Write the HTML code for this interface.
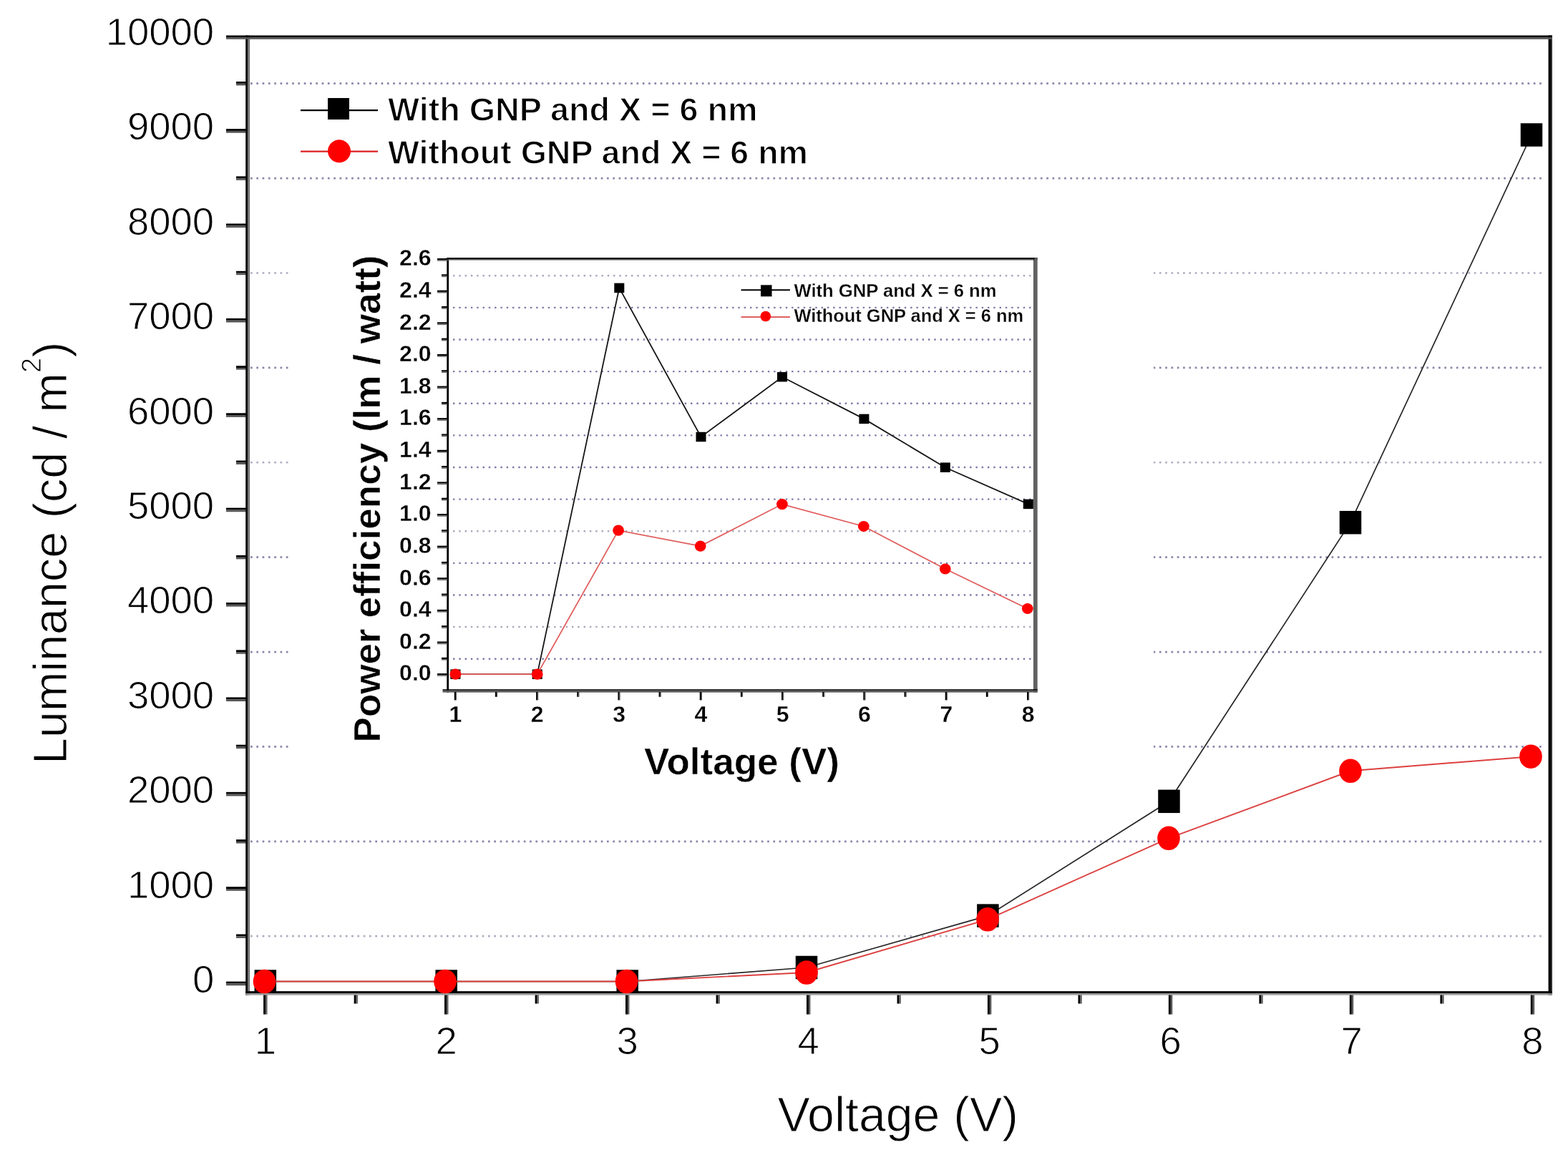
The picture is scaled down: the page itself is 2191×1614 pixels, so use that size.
<!DOCTYPE html>
<html><head><meta charset="utf-8"><title>Luminance vs Voltage</title>
<style>html,body{margin:0;padding:0;background:#fff;}body{width:2191px;height:1614px;overflow:hidden;}svg{display:block;}text{font-family:"Liberation Sans",Arial,sans-serif;fill:#000;stroke:#fff;stroke-width:1px;}text[font-weight="bold"]{stroke-width:1.3px;}text.sm{stroke-width:0.3px;}text.nb{stroke-width:0.5px;}</style>
</head><body>
<svg width="2191" height="1614" viewBox="0 0 2191 1614">
<rect x="0" y="0" width="2191" height="1614" fill="#fff"/>
<line x1="350" y1="1308.21" x2="2157" y2="1308.21" stroke="#aeacc0" stroke-width="2.7" stroke-dasharray="2.7 5.6"/>
<line x1="350" y1="1175.82" x2="2157" y2="1175.82" stroke="#8a86a8" stroke-width="2.7" stroke-dasharray="2.7 5.6"/>
<line x1="350" y1="1043.43" x2="2157" y2="1043.43" stroke="#8a86a8" stroke-width="2.7" stroke-dasharray="2.7 5.6"/>
<line x1="350" y1="911.04" x2="2157" y2="911.04" stroke="#8a86a8" stroke-width="2.7" stroke-dasharray="2.7 5.6"/>
<line x1="350" y1="778.65" x2="2157" y2="778.65" stroke="#8a86a8" stroke-width="2.7" stroke-dasharray="2.7 5.6"/>
<line x1="350" y1="646.26" x2="2157" y2="646.26" stroke="#aeacc0" stroke-width="2.7" stroke-dasharray="2.7 5.6"/>
<line x1="350" y1="513.87" x2="2157" y2="513.87" stroke="#8a86a8" stroke-width="2.7" stroke-dasharray="2.7 5.6"/>
<line x1="350" y1="381.48" x2="2157" y2="381.48" stroke="#aeacc0" stroke-width="2.7" stroke-dasharray="2.7 5.6"/>
<line x1="350" y1="249.09" x2="2157" y2="249.09" stroke="#8a86a8" stroke-width="2.7" stroke-dasharray="2.7 5.6"/>
<line x1="350" y1="116.71" x2="2157" y2="116.71" stroke="#8a86a8" stroke-width="2.7" stroke-dasharray="2.7 5.6"/>
<rect x="316" y="1371.6" width="30" height="2.8" fill="#000"/>
<rect x="316" y="1374.4" width="30" height="2.8" fill="#555"/>
<rect x="316" y="1239.21" width="30" height="2.8" fill="#000"/>
<rect x="316" y="1242.01" width="30" height="2.8" fill="#555"/>
<rect x="316" y="1106.82" width="30" height="2.8" fill="#000"/>
<rect x="316" y="1109.62" width="30" height="2.8" fill="#555"/>
<rect x="316" y="974.43" width="30" height="2.8" fill="#000"/>
<rect x="316" y="977.23" width="30" height="2.8" fill="#555"/>
<rect x="316" y="842.04" width="30" height="2.8" fill="#000"/>
<rect x="316" y="844.84" width="30" height="2.8" fill="#555"/>
<rect x="316" y="709.66" width="30" height="2.8" fill="#000"/>
<rect x="316" y="712.46" width="30" height="2.8" fill="#555"/>
<rect x="316" y="577.27" width="30" height="2.8" fill="#000"/>
<rect x="316" y="580.07" width="30" height="2.8" fill="#555"/>
<rect x="316" y="444.88" width="30" height="2.8" fill="#000"/>
<rect x="316" y="447.68" width="30" height="2.8" fill="#555"/>
<rect x="316" y="312.49" width="30" height="2.8" fill="#000"/>
<rect x="316" y="315.29" width="30" height="2.8" fill="#555"/>
<rect x="316" y="180.1" width="30" height="2.8" fill="#000"/>
<rect x="316" y="182.9" width="30" height="2.8" fill="#555"/>
<rect x="330" y="1305.51" width="16" height="2.8" fill="#000"/>
<rect x="330" y="1308.31" width="16" height="2.6" fill="#555"/>
<rect x="330" y="1173.12" width="16" height="2.8" fill="#000"/>
<rect x="330" y="1175.92" width="16" height="2.6" fill="#555"/>
<rect x="330" y="1040.73" width="16" height="2.8" fill="#000"/>
<rect x="330" y="1043.53" width="16" height="2.6" fill="#555"/>
<rect x="330" y="908.34" width="16" height="2.8" fill="#000"/>
<rect x="330" y="911.14" width="16" height="2.6" fill="#555"/>
<rect x="330" y="775.95" width="16" height="2.8" fill="#000"/>
<rect x="330" y="778.75" width="16" height="2.6" fill="#555"/>
<rect x="330" y="643.56" width="16" height="2.8" fill="#000"/>
<rect x="330" y="646.36" width="16" height="2.6" fill="#555"/>
<rect x="330" y="511.17" width="16" height="2.8" fill="#000"/>
<rect x="330" y="513.97" width="16" height="2.6" fill="#555"/>
<rect x="330" y="378.78" width="16" height="2.8" fill="#000"/>
<rect x="330" y="381.58" width="16" height="2.6" fill="#555"/>
<rect x="330" y="246.39" width="16" height="2.8" fill="#000"/>
<rect x="330" y="249.19" width="16" height="2.6" fill="#555"/>
<rect x="330" y="114.01" width="16" height="2.8" fill="#000"/>
<rect x="330" y="116.81" width="16" height="2.6" fill="#555"/>
<rect x="368.1" y="1390" width="3" height="27.5" fill="#000"/>
<rect x="371.1" y="1390" width="2.4" height="27.5" fill="#5a5a5a"/>
<rect x="621.06" y="1390" width="3" height="27.5" fill="#000"/>
<rect x="624.06" y="1390" width="2.4" height="27.5" fill="#5a5a5a"/>
<rect x="874.01" y="1390" width="3" height="27.5" fill="#000"/>
<rect x="877.01" y="1390" width="2.4" height="27.5" fill="#5a5a5a"/>
<rect x="1126.97" y="1390" width="3" height="27.5" fill="#000"/>
<rect x="1129.97" y="1390" width="2.4" height="27.5" fill="#5a5a5a"/>
<rect x="1379.93" y="1390" width="3" height="27.5" fill="#000"/>
<rect x="1382.93" y="1390" width="2.4" height="27.5" fill="#5a5a5a"/>
<rect x="1632.89" y="1390" width="3" height="27.5" fill="#000"/>
<rect x="1635.89" y="1390" width="2.4" height="27.5" fill="#5a5a5a"/>
<rect x="1885.84" y="1390" width="3" height="27.5" fill="#000"/>
<rect x="1888.84" y="1390" width="2.4" height="27.5" fill="#5a5a5a"/>
<rect x="2138.8" y="1390" width="3" height="27.5" fill="#000"/>
<rect x="2141.8" y="1390" width="2.4" height="27.5" fill="#5a5a5a"/>
<rect x="494.68" y="1390" width="3" height="12.5" fill="#000"/>
<rect x="497.68" y="1390" width="2.2" height="12.5" fill="#5a5a5a"/>
<rect x="747.64" y="1390" width="3" height="12.5" fill="#000"/>
<rect x="750.64" y="1390" width="2.2" height="12.5" fill="#5a5a5a"/>
<rect x="1000.59" y="1390" width="3" height="12.5" fill="#000"/>
<rect x="1003.59" y="1390" width="2.2" height="12.5" fill="#5a5a5a"/>
<rect x="1253.55" y="1390" width="3" height="12.5" fill="#000"/>
<rect x="1256.55" y="1390" width="2.2" height="12.5" fill="#5a5a5a"/>
<rect x="1506.51" y="1390" width="3" height="12.5" fill="#000"/>
<rect x="1509.51" y="1390" width="2.2" height="12.5" fill="#5a5a5a"/>
<rect x="1759.46" y="1390" width="3" height="12.5" fill="#000"/>
<rect x="1762.46" y="1390" width="2.2" height="12.5" fill="#5a5a5a"/>
<rect x="2012.42" y="1390" width="3" height="12.5" fill="#000"/>
<rect x="2015.42" y="1390" width="2.2" height="12.5" fill="#5a5a5a"/>
<rect x="343.2" y="49.5" width="3.2" height="1341.1" fill="#000"/>
<rect x="346.4" y="49.5" width="2.6" height="1341.1" fill="#707070"/>
<rect x="2163.6" y="49.5" width="3.4" height="1341.1" fill="#000"/>
<rect x="2167" y="49.5" width="2" height="1341.1" fill="#333"/>
<rect x="316" y="49.5" width="1852.9" height="2.6" fill="#000"/>
<rect x="316" y="52.1" width="1852.9" height="2.7" fill="#555"/>
<rect x="343.3" y="1385.1" width="1825.6" height="3" fill="#000"/>
<rect x="343.3" y="1388.1" width="1825.6" height="2.5" fill="#9a9a9a"/>
<text x="299.2" y="1386.9" font-size="54.5" text-anchor="end">0</text>
<text x="299.2" y="1254.51" font-size="54.5" text-anchor="end">1000</text>
<text x="299.2" y="1122.12" font-size="54.5" text-anchor="end">2000</text>
<text x="299.2" y="989.73" font-size="54.5" text-anchor="end">3000</text>
<text x="299.2" y="857.34" font-size="54.5" text-anchor="end">4000</text>
<text x="299.2" y="724.96" font-size="54.5" text-anchor="end">5000</text>
<text x="299.2" y="592.57" font-size="54.5" text-anchor="end">6000</text>
<text x="299.2" y="460.18" font-size="54.5" text-anchor="end">7000</text>
<text x="299.2" y="327.79" font-size="54.5" text-anchor="end">8000</text>
<text x="299.2" y="195.4" font-size="54.5" text-anchor="end">9000</text>
<text x="299.2" y="63.01" font-size="54.5" text-anchor="end">10000</text>
<text x="370.8" y="1473" font-size="54.5" text-anchor="middle">1</text>
<text x="623.76" y="1473" font-size="54.5" text-anchor="middle">2</text>
<text x="876.71" y="1473" font-size="54.5" text-anchor="middle">3</text>
<text x="1129.67" y="1473" font-size="54.5" text-anchor="middle">4</text>
<text x="1382.63" y="1473" font-size="54.5" text-anchor="middle">5</text>
<text x="1635.59" y="1473" font-size="54.5" text-anchor="middle">6</text>
<text x="1888.54" y="1473" font-size="54.5" text-anchor="middle">7</text>
<text x="2141.5" y="1473" font-size="54.5" text-anchor="middle">8</text>
<text transform="translate(92.6,1068) rotate(-90)" font-size="66.5" x="0" y="0">Luminance (cd / m<tspan font-size="38" dy="-35.4">2</tspan><tspan dy="35.4">)</tspan></text>
<text x="1086.5" y="1581.2" font-size="68" text-anchor="start">Voltage (V)</text>
<line x1="420" y1="154.2" x2="528" y2="154.2" stroke="#000" stroke-width="2.2"/>
<rect x="458" y="137" width="30" height="30" fill="#000"/>
<line x1="420" y1="211.7" x2="528" y2="211.7" stroke="#d82020" stroke-width="2.2"/>
<circle cx="474" cy="211.3" r="16" fill="#ff0000"/>
<text x="542" y="169" font-size="46.5" text-anchor="start" font-weight="bold" textLength="516.5" lengthAdjust="spacingAndGlyphs">With GNP and X = 6 nm</text>
<text x="542" y="228.6" font-size="46.5" text-anchor="start" font-weight="bold" textLength="587" lengthAdjust="spacingAndGlyphs">Without GNP and X = 6 nm</text>
<polyline points="370.8,1371.5 623.7,1371.5 876.7,1371.5 1127,1352 1380.4,1279.6 1633.5,1119.8 1887,730.2 2140,188.5" fill="none" stroke="#262626" stroke-width="1.7"/>
<rect x="355.55" y="1355.25" width="30.5" height="32.5" fill="#000"/>
<rect x="608.45" y="1355.25" width="30.5" height="32.5" fill="#000"/>
<rect x="861.45" y="1355.25" width="30.5" height="32.5" fill="#000"/>
<rect x="1111.75" y="1335.75" width="30.5" height="32.5" fill="#000"/>
<rect x="1365.15" y="1263.35" width="30.5" height="32.5" fill="#000"/>
<rect x="1618.25" y="1103.55" width="30.5" height="32.5" fill="#000"/>
<rect x="1871.75" y="713.95" width="30.5" height="32.5" fill="#000"/>
<rect x="2124.75" y="172.25" width="30.5" height="32.5" fill="#000"/>
<polyline points="369.5,1371.5 622,1371.5 875.5,1371.5 1127,1359 1380,1284.8 1633,1171.3 1887,1077.3 2139,1057.2" fill="none" stroke="#dc4040" stroke-width="1.9"/>
<ellipse cx="369.5" cy="1371.5" rx="15.8" ry="16.8" fill="#ff0000"/>
<ellipse cx="622" cy="1371.5" rx="15.8" ry="16.8" fill="#ff0000"/>
<ellipse cx="875.5" cy="1371.5" rx="15.8" ry="16.8" fill="#ff0000"/>
<ellipse cx="1127" cy="1359" rx="15.8" ry="16.8" fill="#ff0000"/>
<ellipse cx="1380" cy="1284.8" rx="15.8" ry="16.8" fill="#ff0000"/>
<ellipse cx="1633" cy="1171.3" rx="15.8" ry="16.8" fill="#ff0000"/>
<ellipse cx="1887" cy="1077.3" rx="15.8" ry="16.8" fill="#ff0000"/>
<ellipse cx="2139" cy="1057.2" rx="15.8" ry="16.8" fill="#ff0000"/>
<rect x="408" y="300" width="1204" height="810" fill="#fff"/>
<line x1="633" y1="920.69" x2="1442" y2="920.69" stroke="#7d7aa6" stroke-width="2.4" stroke-dasharray="2.4 5.9"/>
<line x1="633" y1="876.07" x2="1442" y2="876.07" stroke="#aaa9bd" stroke-width="2.4" stroke-dasharray="2.4 5.9"/>
<line x1="633" y1="831.45" x2="1442" y2="831.45" stroke="#7d7aa6" stroke-width="2.4" stroke-dasharray="2.4 5.9"/>
<line x1="633" y1="786.83" x2="1442" y2="786.83" stroke="#7d7aa6" stroke-width="2.4" stroke-dasharray="2.4 5.9"/>
<line x1="633" y1="742.21" x2="1442" y2="742.21" stroke="#aaa9bd" stroke-width="2.4" stroke-dasharray="2.4 5.9"/>
<line x1="633" y1="697.59" x2="1442" y2="697.59" stroke="#7d7aa6" stroke-width="2.4" stroke-dasharray="2.4 5.9"/>
<line x1="633" y1="652.97" x2="1442" y2="652.97" stroke="#7d7aa6" stroke-width="2.4" stroke-dasharray="2.4 5.9"/>
<line x1="633" y1="608.35" x2="1442" y2="608.35" stroke="#7d7aa6" stroke-width="2.4" stroke-dasharray="2.4 5.9"/>
<line x1="633" y1="563.73" x2="1442" y2="563.73" stroke="#7d7aa6" stroke-width="2.4" stroke-dasharray="2.4 5.9"/>
<line x1="633" y1="519.11" x2="1442" y2="519.11" stroke="#7d7aa6" stroke-width="2.4" stroke-dasharray="2.4 5.9"/>
<line x1="633" y1="474.49" x2="1442" y2="474.49" stroke="#7d7aa6" stroke-width="2.4" stroke-dasharray="2.4 5.9"/>
<line x1="633" y1="429.87" x2="1442" y2="429.87" stroke="#7d7aa6" stroke-width="2.4" stroke-dasharray="2.4 5.9"/>
<line x1="633" y1="385.25" x2="1442" y2="385.25" stroke="#aaa9bd" stroke-width="2.4" stroke-dasharray="2.4 5.9"/>
<rect x="624.3" y="360.4" width="2.8" height="607.2" fill="#000"/>
<rect x="624.3" y="360.1" width="825.4" height="2.6" fill="#000"/>
<rect x="624.3" y="362.7" width="825.4" height="1" fill="#777"/>
<rect x="1444.35" y="360.4" width="1.2" height="607.2" fill="#000"/>
<rect x="1445.55" y="360.4" width="4.1" height="607.2" fill="#606060"/>
<rect x="618.5" y="963.2" width="831.2" height="1.6" fill="#000"/>
<rect x="618.5" y="964.8" width="831.2" height="2.8" fill="#5c5c5c"/>
<rect x="611" y="941.1" width="14" height="2.2" fill="#000"/>
<rect x="611" y="943.3" width="14" height="1.6" fill="#666"/>
<rect x="611" y="896.48" width="14" height="2.2" fill="#000"/>
<rect x="611" y="898.68" width="14" height="1.6" fill="#666"/>
<rect x="611" y="851.86" width="14" height="2.2" fill="#000"/>
<rect x="611" y="854.06" width="14" height="1.6" fill="#666"/>
<rect x="611" y="807.24" width="14" height="2.2" fill="#000"/>
<rect x="611" y="809.44" width="14" height="1.6" fill="#666"/>
<rect x="611" y="762.62" width="14" height="2.2" fill="#000"/>
<rect x="611" y="764.82" width="14" height="1.6" fill="#666"/>
<rect x="611" y="718" width="14" height="2.2" fill="#000"/>
<rect x="611" y="720.2" width="14" height="1.6" fill="#666"/>
<rect x="611" y="673.38" width="14" height="2.2" fill="#000"/>
<rect x="611" y="675.58" width="14" height="1.6" fill="#666"/>
<rect x="611" y="628.76" width="14" height="2.2" fill="#000"/>
<rect x="611" y="630.96" width="14" height="1.6" fill="#666"/>
<rect x="611" y="584.14" width="14" height="2.2" fill="#000"/>
<rect x="611" y="586.34" width="14" height="1.6" fill="#666"/>
<rect x="611" y="539.52" width="14" height="2.2" fill="#000"/>
<rect x="611" y="541.72" width="14" height="1.6" fill="#666"/>
<rect x="611" y="494.9" width="14" height="2.2" fill="#000"/>
<rect x="611" y="497.1" width="14" height="1.6" fill="#666"/>
<rect x="611" y="450.28" width="14" height="2.2" fill="#000"/>
<rect x="611" y="452.48" width="14" height="1.6" fill="#666"/>
<rect x="611" y="405.66" width="14" height="2.2" fill="#000"/>
<rect x="611" y="407.86" width="14" height="1.6" fill="#666"/>
<rect x="611" y="361.04" width="14" height="2.2" fill="#000"/>
<rect x="611" y="363.24" width="14" height="1.6" fill="#666"/>
<rect x="617" y="918.79" width="8" height="2.2" fill="#000"/>
<rect x="617" y="920.99" width="8" height="1.6" fill="#666"/>
<rect x="617" y="874.17" width="8" height="2.2" fill="#000"/>
<rect x="617" y="876.37" width="8" height="1.6" fill="#666"/>
<rect x="617" y="829.55" width="8" height="2.2" fill="#000"/>
<rect x="617" y="831.75" width="8" height="1.6" fill="#666"/>
<rect x="617" y="784.93" width="8" height="2.2" fill="#000"/>
<rect x="617" y="787.13" width="8" height="1.6" fill="#666"/>
<rect x="617" y="740.31" width="8" height="2.2" fill="#000"/>
<rect x="617" y="742.51" width="8" height="1.6" fill="#666"/>
<rect x="617" y="695.69" width="8" height="2.2" fill="#000"/>
<rect x="617" y="697.89" width="8" height="1.6" fill="#666"/>
<rect x="617" y="651.07" width="8" height="2.2" fill="#000"/>
<rect x="617" y="653.27" width="8" height="1.6" fill="#666"/>
<rect x="617" y="606.45" width="8" height="2.2" fill="#000"/>
<rect x="617" y="608.65" width="8" height="1.6" fill="#666"/>
<rect x="617" y="561.83" width="8" height="2.2" fill="#000"/>
<rect x="617" y="564.03" width="8" height="1.6" fill="#666"/>
<rect x="617" y="517.21" width="8" height="2.2" fill="#000"/>
<rect x="617" y="519.41" width="8" height="1.6" fill="#666"/>
<rect x="617" y="472.59" width="8" height="2.2" fill="#000"/>
<rect x="617" y="474.79" width="8" height="1.6" fill="#666"/>
<rect x="617" y="427.97" width="8" height="2.2" fill="#000"/>
<rect x="617" y="430.17" width="8" height="1.6" fill="#666"/>
<rect x="617" y="383.35" width="8" height="2.2" fill="#000"/>
<rect x="617" y="385.55" width="8" height="1.6" fill="#666"/>
<rect x="634.8" y="967" width="2.2" height="11.4" fill="#000"/>
<rect x="637" y="967" width="1" height="11.4" fill="#555"/>
<rect x="749.11" y="967" width="2.2" height="11.4" fill="#000"/>
<rect x="751.31" y="967" width="1" height="11.4" fill="#555"/>
<rect x="863.43" y="967" width="2.2" height="11.4" fill="#000"/>
<rect x="865.63" y="967" width="1" height="11.4" fill="#555"/>
<rect x="977.74" y="967" width="2.2" height="11.4" fill="#000"/>
<rect x="979.94" y="967" width="1" height="11.4" fill="#555"/>
<rect x="1092.06" y="967" width="2.2" height="11.4" fill="#000"/>
<rect x="1094.26" y="967" width="1" height="11.4" fill="#555"/>
<rect x="1206.37" y="967" width="2.2" height="11.4" fill="#000"/>
<rect x="1208.57" y="967" width="1" height="11.4" fill="#555"/>
<rect x="1320.69" y="967" width="2.2" height="11.4" fill="#000"/>
<rect x="1322.89" y="967" width="1" height="11.4" fill="#555"/>
<rect x="1435" y="967" width="2.2" height="11.4" fill="#000"/>
<rect x="1437.2" y="967" width="1" height="11.4" fill="#555"/>
<rect x="691.96" y="967" width="2.2" height="6.8" fill="#000"/>
<rect x="694.16" y="967" width="1" height="6.8" fill="#555"/>
<rect x="806.27" y="967" width="2.2" height="6.8" fill="#000"/>
<rect x="808.47" y="967" width="1" height="6.8" fill="#555"/>
<rect x="920.59" y="967" width="2.2" height="6.8" fill="#000"/>
<rect x="922.79" y="967" width="1" height="6.8" fill="#555"/>
<rect x="1034.9" y="967" width="2.2" height="6.8" fill="#000"/>
<rect x="1037.1" y="967" width="1" height="6.8" fill="#555"/>
<rect x="1149.21" y="967" width="2.2" height="6.8" fill="#000"/>
<rect x="1151.41" y="967" width="1" height="6.8" fill="#555"/>
<rect x="1263.53" y="967" width="2.2" height="6.8" fill="#000"/>
<rect x="1265.73" y="967" width="1" height="6.8" fill="#555"/>
<rect x="1377.84" y="967" width="2.2" height="6.8" fill="#000"/>
<rect x="1380.04" y="967" width="1" height="6.8" fill="#555"/>
<text x="602.6" y="951.4" font-size="32" text-anchor="end" font-weight="bold" class="sm">0.0</text>
<text x="602.6" y="906.78" font-size="32" text-anchor="end" font-weight="bold" class="sm">0.2</text>
<text x="602.6" y="862.16" font-size="32" text-anchor="end" font-weight="bold" class="sm">0.4</text>
<text x="602.6" y="817.54" font-size="32" text-anchor="end" font-weight="bold" class="sm">0.6</text>
<text x="602.6" y="772.92" font-size="32" text-anchor="end" font-weight="bold" class="sm">0.8</text>
<text x="602.6" y="728.3" font-size="32" text-anchor="end" font-weight="bold" class="sm">1.0</text>
<text x="602.6" y="683.68" font-size="32" text-anchor="end" font-weight="bold" class="sm">1.2</text>
<text x="602.6" y="639.06" font-size="32" text-anchor="end" font-weight="bold" class="sm">1.4</text>
<text x="602.6" y="594.44" font-size="32" text-anchor="end" font-weight="bold" class="sm">1.6</text>
<text x="602.6" y="549.82" font-size="32" text-anchor="end" font-weight="bold" class="sm">1.8</text>
<text x="602.6" y="505.2" font-size="32" text-anchor="end" font-weight="bold" class="sm">2.0</text>
<text x="602.6" y="460.58" font-size="32" text-anchor="end" font-weight="bold" class="sm">2.2</text>
<text x="602.6" y="415.96" font-size="32" text-anchor="end" font-weight="bold" class="sm">2.4</text>
<text x="602.6" y="371.34" font-size="32" text-anchor="end" font-weight="bold" class="sm">2.6</text>
<text x="636.4" y="1009.2" font-size="32" text-anchor="middle" font-weight="bold" class="sm">1</text>
<text x="750.71" y="1009.2" font-size="32" text-anchor="middle" font-weight="bold" class="sm">2</text>
<text x="865.03" y="1009.2" font-size="32" text-anchor="middle" font-weight="bold" class="sm">3</text>
<text x="979.34" y="1009.2" font-size="32" text-anchor="middle" font-weight="bold" class="sm">4</text>
<text x="1093.66" y="1009.2" font-size="32" text-anchor="middle" font-weight="bold" class="sm">5</text>
<text x="1207.97" y="1009.2" font-size="32" text-anchor="middle" font-weight="bold" class="sm">6</text>
<text x="1322.29" y="1009.2" font-size="32" text-anchor="middle" font-weight="bold" class="sm">7</text>
<text x="1436.6" y="1009.2" font-size="32" text-anchor="middle" font-weight="bold" class="sm">8</text>
<text class="nb" transform="translate(531.4,1037.5) rotate(-90)" font-size="52.5" font-weight="bold" x="0" y="0" textLength="681" lengthAdjust="spacingAndGlyphs">Power efficiency (lm / watt)</text>
<text x="900" y="1082.1" font-size="52" text-anchor="start" font-weight="bold" class="nb" textLength="273" lengthAdjust="spacingAndGlyphs">Voltage (V)</text>
<line x1="1035.5" y1="405.2" x2="1103.9" y2="405.2" stroke="#000" stroke-width="2"/>
<rect x="1063" y="398.3" width="15.5" height="16" fill="#000"/>
<line x1="1035.5" y1="443" x2="1103.9" y2="443" stroke="#e06060" stroke-width="2"/>
<circle cx="1069.8" cy="442" r="7.3" fill="#ff0000"/>
<text x="1109.5" y="414.8" font-size="26" text-anchor="start" font-weight="bold" class="sm" textLength="283" lengthAdjust="spacingAndGlyphs">With GNP and X = 6 nm</text>
<text x="1109.5" y="450.3" font-size="26" text-anchor="start" font-weight="bold" class="sm" textLength="320.5" lengthAdjust="spacingAndGlyphs">Without GNP and X = 6 nm</text>
<polyline points="636.4,942.2 750.71,942.2 865.3,402.4 979.5,610.5 1093,526.7 1207.4,585.4 1320.8,653.2 1436.8,704.4" fill="none" stroke="#151515" stroke-width="1.8"/>
<rect x="629.4" y="935.45" width="14" height="13.5" fill="#000"/>
<rect x="743.71" y="935.45" width="14" height="13.5" fill="#000"/>
<rect x="858.3" y="395.65" width="14" height="13.5" fill="#000"/>
<rect x="972.5" y="603.75" width="14" height="13.5" fill="#000"/>
<rect x="1086" y="519.95" width="14" height="13.5" fill="#000"/>
<rect x="1200.4" y="578.65" width="14" height="13.5" fill="#000"/>
<rect x="1313.8" y="646.45" width="14" height="13.5" fill="#000"/>
<rect x="1429.8" y="697.65" width="14" height="13.5" fill="#000"/>
<polyline points="636.4,942.2 750.71,942.2 864.1,741.2 978.7,763.1 1092.9,704.6 1206.8,735.5 1320.8,795 1435.8,850.5" fill="none" stroke="#e05a5a" stroke-width="1.7"/>
<ellipse cx="636.4" cy="942.2" rx="7.9" ry="7.6" fill="#ff0000"/>
<ellipse cx="750.71" cy="942.2" rx="7.9" ry="7.6" fill="#ff0000"/>
<ellipse cx="864.1" cy="741.2" rx="7.9" ry="7.6" fill="#ff0000"/>
<ellipse cx="978.7" cy="763.1" rx="7.9" ry="7.6" fill="#ff0000"/>
<ellipse cx="1092.9" cy="704.6" rx="7.9" ry="7.6" fill="#ff0000"/>
<ellipse cx="1206.8" cy="735.5" rx="7.9" ry="7.6" fill="#ff0000"/>
<ellipse cx="1320.8" cy="795" rx="7.9" ry="7.6" fill="#ff0000"/>
<ellipse cx="1435.8" cy="850.5" rx="7.9" ry="7.6" fill="#ff0000"/>
</svg>
</body></html>
